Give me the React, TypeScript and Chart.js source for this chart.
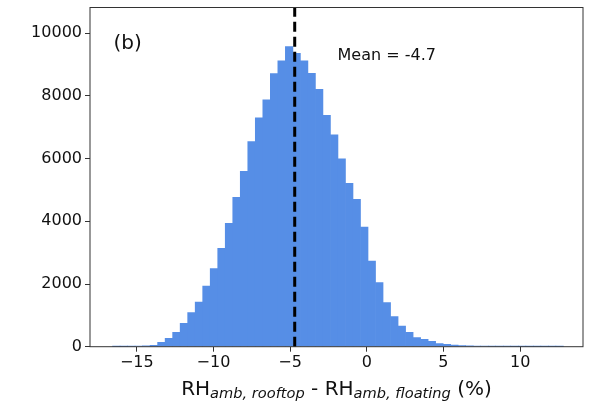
import React, { useEffect, useRef } from 'react';
import { Chart, registerables } from 'chart.js';

Chart.register(...registerables);

// Histogram bin centres (bin width 0.49) and counts
const binCenters = [
  -16.335, -15.845, -15.355, -14.865, -14.375, -13.885, -13.395, -12.905, -12.415, -11.925,
  -11.435, -10.945, -10.455, -9.965, -9.475, -8.985, -8.495, -8.005, -7.515, -7.025,
  -6.535, -6.045, -5.555, -5.065, -4.575, -4.085, -3.595, -3.105, -2.615, -2.125,
  -1.635, -1.145, -0.655, -0.165, 0.325, 0.815, 1.305, 1.795, 2.285, 2.775,
  3.265, 3.755, 4.245, 4.735, 5.225, 5.715, 6.205, 6.695, 7.185, 7.675,
  8.165, 8.655, 9.145, 9.635, 10.125, 10.615, 11.105, 11.595, 12.085, 12.575,
];
const counts = [
  2, 4, 8, 14, 24, 45, 140, 268, 459, 746,
  1085, 1426, 1937, 2489, 3140, 3937, 4767, 5597, 6541, 7297,
  7872, 8711, 9116, 9572, 9362, 9116, 8724, 8213, 7383, 6755,
  5989, 5214, 4703, 3819, 2734, 2042, 1404, 957, 660, 459,
  287, 236, 172, 96, 77, 51, 35, 25, 18, 14,
  10, 7, 5, 4, 3, 2, 2, 1, 1, 1,
];
const meanValue = -4.7;
const xTicks = [-15, -10, -5, 0, 5, 10];
const yTicks = [0, 2000, 4000, 6000, 8000, 10000];
const xMin = -18.05;
const xMax = 14.1;
const yMin = 0;
const yMax = 10820;
const panelLabel = '(b)';
const meanLabel = 'Mean = -4.7';
const xLabelParts = [
  { text: 'RH', sub: false },
  { text: 'amb, rooftop', sub: true },
  { text: ' - RH', sub: false },
  { text: 'amb, floating', sub: true },
  { text: ' (%)', sub: false },
];

const FONT = '"DejaVu Sans", "Noto Sans", sans-serif';

export default function App() {
  const canvasRef = useRef<HTMLCanvasElement>(null);

  useEffect(() => {
    if (!canvasRef.current) return;

    const overlay = {
      id: 'overlay',
      afterDatasetsDraw(chart: any) {
        const { ctx, chartArea: a, scales } = chart;
        const x = scales.x.getPixelForValue(meanValue);
        ctx.save();
        ctx.strokeStyle = '#000';
        ctx.lineWidth = 3;
        ctx.setLineDash([10, 5]);
        ctx.beginPath();
        ctx.moveTo(x, a.bottom);
        ctx.lineTo(x, a.top);
        ctx.stroke();
        ctx.restore();
      },
      afterDraw(chart: any) {
        const { ctx, chartArea: a } = chart;
        ctx.save();
        // spines
        ctx.strokeStyle = '#333';
        ctx.lineWidth = 1;
        ctx.strokeRect(a.left, a.top, a.right - a.left, a.bottom - a.top);
        // texts
        ctx.fillStyle = '#111';
        ctx.textBaseline = 'alphabetic';
        ctx.textAlign = 'left';
        ctx.font = `20px ${FONT}`;
        ctx.fillText(panelLabel, a.left + 23.5, a.top + 41);
        ctx.font = `16px ${FONT}`;
        ctx.fillText(meanLabel, a.left + 247.5, a.top + 52.5);
        // x axis label with subscripts
        const mainFont = `20px ${FONT}`;
        const subFont = `italic 14.6px ${FONT}`;
        let total = 0;
        const widths = xLabelParts.map((p) => {
          ctx.font = p.sub ? subFont : mainFont;
          const w = ctx.measureText(p.text).width;
          total += w;
          return w;
        });
        let cx = (a.left + a.right) / 2 - total / 2;
        const base = a.bottom + 48.3;
        xLabelParts.forEach((p, i) => {
          ctx.font = p.sub ? subFont : mainFont;
          ctx.fillText(p.text, cx, p.sub ? base + 3 : base);
          cx += widths[i];
        });
        ctx.restore();
      },
    };

    const chart = new Chart(canvasRef.current, {
      type: 'bar',
      data: {
        datasets: [
          {
            data: binCenters.map((x, i) => ({ x, y: counts[i] })),
            backgroundColor: '#568ee6',
            borderWidth: 0,
            barPercentage: 1,
            categoryPercentage: 1,
          },
        ],
      },
      options: {
        animation: false,
        responsive: true,
        maintainAspectRatio: false,
        layout: { padding: { top: 7.5, right: 7, left: 0, bottom: 0 } },
        plugins: {
          legend: { display: false },
          tooltip: { enabled: false },
          title: { display: false },
        },
        scales: {
          x: {
            type: 'linear',
            min: xMin,
            max: xMax,
            offset: false,
            grid: {
              offset: false,
              display: true,
              drawOnChartArea: false,
              drawTicks: true,
              tickLength: 5,
              color: '#333',
            },
            border: { display: false },
            ticks: {
              font: { family: FONT, size: 16 },
              color: '#111',
              padding: 2,
              maxRotation: 0,
              autoSkip: false,
              callback: (v: any) => (Number(v) < 0 ? '\u2212' + Math.abs(Number(v)) : String(v)),
            },
            afterBuildTicks: (scale: any) => {
              scale.ticks = xTicks.map((v) => ({ value: v }));
            },
            afterFit: (scale: any) => {
              scale.height = 57.3;
            },
          },
          y: {
            type: 'linear',
            min: yMin,
            max: yMax,
            grid: {
              display: true,
              drawOnChartArea: false,
              drawTicks: true,
              tickLength: 5,
              color: '#333',
            },
            border: { display: false },
            ticks: {
              font: { family: FONT, size: 16, lineHeight: 0.8 },
              color: '#111',
              padding: 3,
              autoSkip: false,
              callback: (v: any) => String(v),
            },
            afterBuildTicks: (scale: any) => {
              scale.ticks = yTicks.map((v) => ({ value: v }));
            },
            afterFit: (scale: any) => {
              scale.width = 90;
              scale.paddingTop = 0;
              scale.paddingBottom = 0;
            },
          },
        },
      },
      plugins: [overlay],
    } as any);

    return () => chart.destroy();
  }, []);

  return (
    <div style={{ position: 'fixed', left: 0, top: 0, width: 590, height: 404, background: '#fff' }}>
      <canvas ref={canvasRef} />
    </div>
  );
}
